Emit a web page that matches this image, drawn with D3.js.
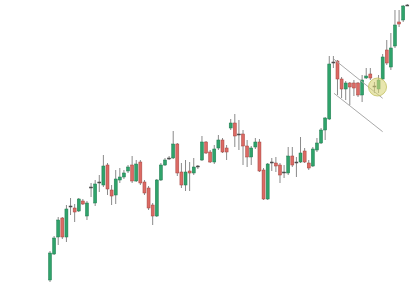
<!DOCTYPE html>
<html>
<head>
<meta charset="utf-8">
<script src="https://cdn.jsdelivr.net/npm/d3@7"></script>
<style>
  html, body { margin: 0; padding: 0; background: #fff; }
  svg { display: block; }
</style>
</head>
<body>
<svg id="chart" width="420" height="287"></svg>
<script>
// candle prices (one entry per session)
let opens = [10,23,31.5,41,31.5,46.5,46,44.5,49.5,42, 56,48.5,58.5,57.5,67.5,55,52.5,60,61.5,64.5,
    67.5,59.5,69,59,56,47.5,42,60,67.5,71, 71,78,64,57.5,64.5,63.5,66.5,70,79,74,
    69,76,80,76,86,88.5,83,83,77,71.5, 76.5,79,65,50.5,68.5,68.5,67.5,64,63.5,72,
    69,69,74.5,68.5,67,75,78.5,85,90.5,118.5, 119.5,110.5,105.5,108.5,108.5,108.5,102.5,111,113,106.5,
    105.5,110.5,125,116.5,127,139,140,147.5];
let closes = [23.5,31,40,31.5,45.5,47,44,50.5,48,48.5, 56.5,58,59,67,55.5,52,60.5,61.5,63.5,66.5,
    59.5,68,58.5,53.5,46,42,60,67.5,70,70.5, 78,63.5,57.5,64,63.5,66.5,67,79,73.5,69,
    75.5,80,74,74,88.5,82,82.5,77,71.5,76, 79,64.5,50.5,68,69,67,62.5,63.5,72,67.5,
    68.5,73.5,69,66,75.5,78.5,85,91,118,119, 110.5,105.5,108.5,106.5,106,102.5,110,112,111,107,
    110,121.5,118.5,126,137.5,138,147,147.25];
let highs = [24.5,32,41.5,41.5,47.5,51,48,51,50.5,49.5, 58.5,60,62.5,72.5,68.5,57.5,65,66,65,67.5,
    72,70,70,60,57,48.5,60.5,68.5,71,72, 84.5,78.5,68.5,70,69,71,67.5,82,79.5,75,
    77.5,82.5,81,77.5,90.5,93,90,85,80,77, 81,80.5,66,68.5,71,71.5,68.5,67.5,76.5,76.5,
    71.5,81.5,76,70,76.5,81,86,91.5,122,122, 120,111.5,109.5,109,110,109,112.5,116,116,109,
    112.5,123,130,133.5,145,145,147.5,148];
let lows = [9,22.5,27.5,30.5,29,42.5,39,44,47.5,40, 51.5,47,54,56.5,52.5,47.5,48,58.5,60.5,63.5,
    58.5,59,57.5,52.5,45,37.5,41.5,59.5,67,70, 70.5,62,56,54.5,54.5,62.5,65.5,69.5,73,68.5,
    68,75,73.5,70,85,76.5,75,67.5,66.5,67.5, 75.5,64,50,50,64.5,64,58.5,61,62.5,66.5,
    61.5,68.5,68.5,65,66.5,74,78,80,90,116, 102.5,101,100,97.5,102,101.5,99,110.5,110,103.5,
    103.5,110,117.5,115,126,136.5,139,147];

// flag pattern drawn on top: [candle index, price]
let flagUpper = [[69.15, 120.35], [81, 100.85]];
let flagLower = [[69.15, 103.35], [81, 84.15]];
let highlight = [79.75, 106.5];

let upColor = "#2fa36b", upEdge = "#1d7a4e";
let downColor = "#dc6a64", downEdge = "#a3423e";

let svg = d3.select("#chart");

let candles = opens.map((o, i) => ({
    i: i, open: o, close: closes[i], high: highs[i], low: lows[i]
}));

let x = d3.scaleLinear()
    .domain([0, candles.length - 1])
    .range([50, 407.3]);

let y = d3.scaleLinear()
    .domain([8, 148])
    .range([284, 4]);

let bodyW = 3;

let g = svg.append("g");

// wicks
g.selectAll("line.wick")
    .data(candles)
    .enter().append("line")
    .attr("class", "wick")
    .attr("x1", d => x(d.i))
    .attr("x2", d => x(d.i))
    .attr("y1", d => y(d.high))
    .attr("y2", d => y(d.low))
    .style("stroke", "#8a8a8a")
    .style("stroke-width", 1);

// bodies
g.selectAll("rect.body")
    .data(candles)
    .enter().append("rect")
    .attr("class", "body")
    .attr("x", d => x(d.i) - bodyW / 2)
    .attr("y", d => y(Math.max(d.open, d.close)))
    .attr("width", bodyW)
    .attr("height", d => Math.max(1, Math.abs(y(d.open) - y(d.close))))
    .style("fill", d => {
        if (Math.abs(d.open - d.close) < 0.6) return "#555";
        return d.close >= d.open ? upColor : downColor;
    })
    .style("stroke", d => {
        if (Math.abs(d.open - d.close) < 0.6) return "#444";
        return d.close >= d.open ? upEdge : downEdge;
    })
    .style("stroke-width", 0.5);

// flag lines
let line = d3.line()
    .x(d => x(d[0]))
    .y(d => y(d[1]));

[flagUpper, flagLower].forEach(pts => {
    g.append("path")
        .attr("d", line(pts))
        .style("fill", "none")
        .style("stroke", "#a9a9a9")
        .style("stroke-width", 1);
});

// breakout highlight
g.append("circle")
    .attr("cx", x(highlight[0]))
    .attr("cy", y(highlight[1]))
    .attr("r", 9)
    .style("fill", "#d8d67a")
    .style("fill-opacity", 0.6)
    .style("stroke", "#c2c060")
    .style("stroke-width", 1)
    .style("stroke-opacity", 0.8);
</script>
</body>
</html>
